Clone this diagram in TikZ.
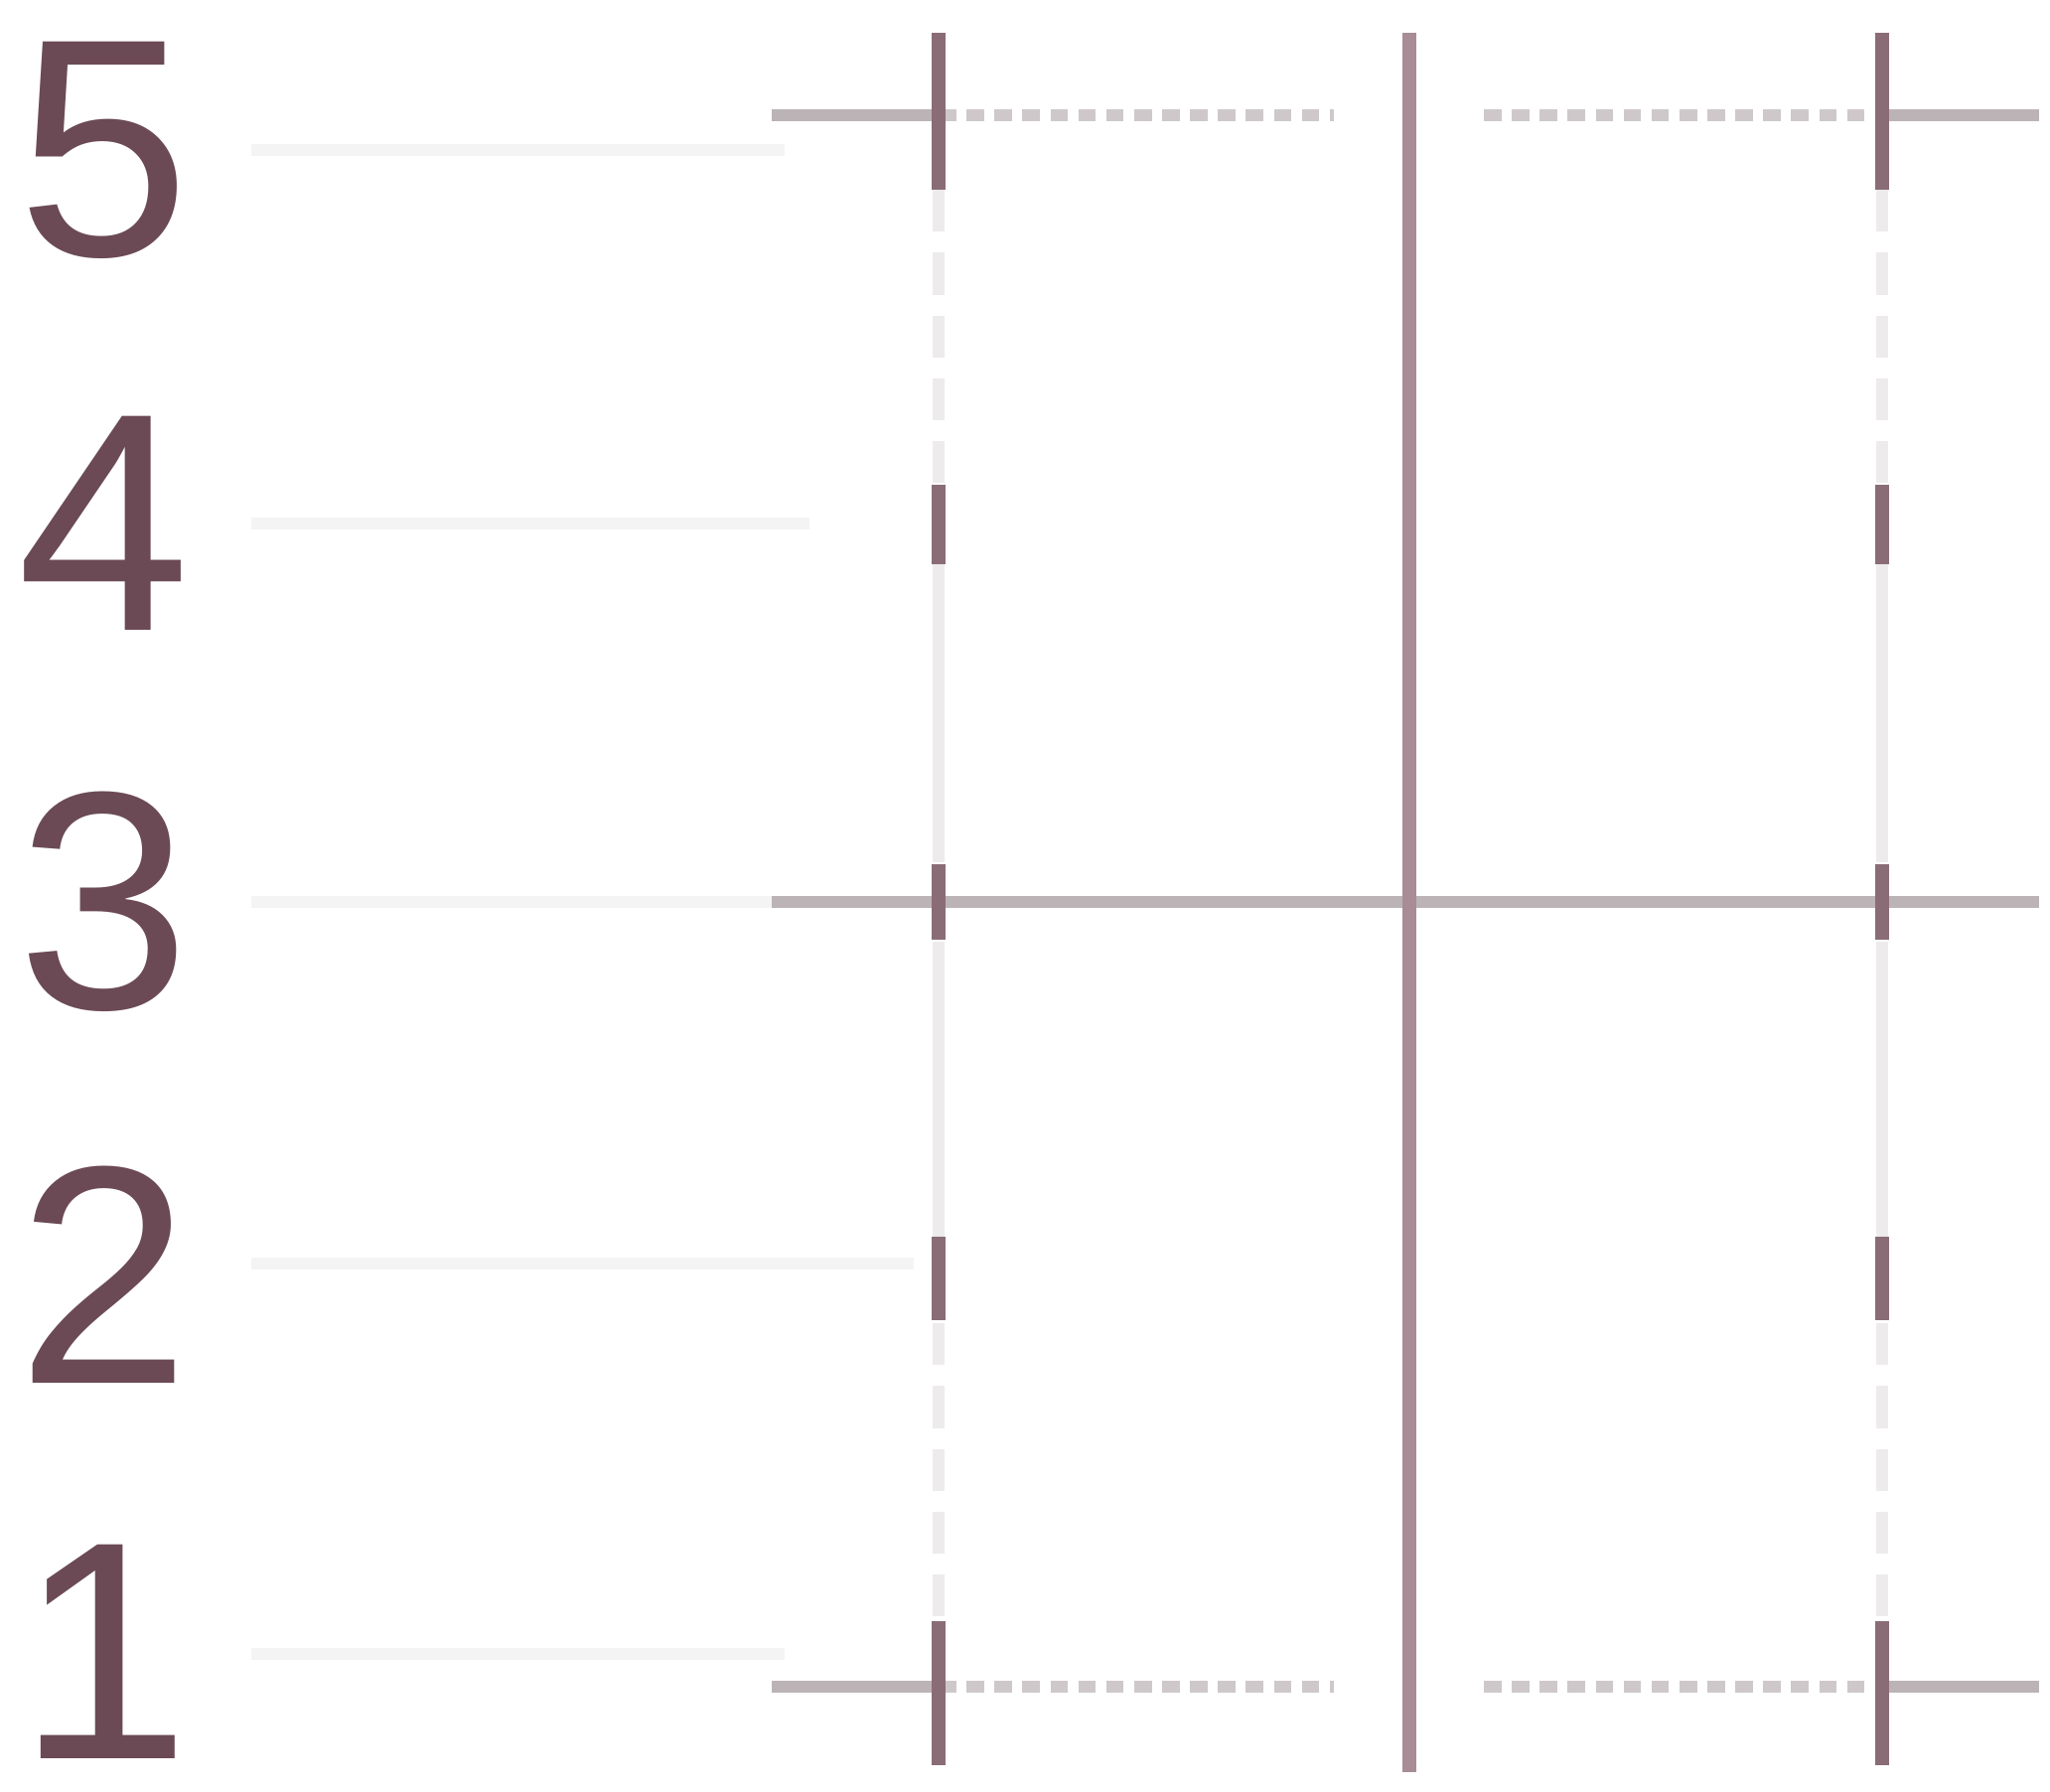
\documentclass[tikz,border=0pt]{standalone}
\usepackage{fontspec}
\setmainfont{Liberation Sans}
\begin{document}
\begin{tikzpicture}[x=0.01cm,y=-0.01cm,
  lbl/.style={text=labelc,font=\fontsize{89}{89}\selectfont,inner sep=0pt},
  leader/.style={draw=leaderc,line width=3.5pt},
  axis/.style={draw=axisc,line width=4pt},
  tick/.style={draw=tickc,line width=4pt},
  faint/.style={draw=faintc,line width=3.5pt},
  faintdash/.style={draw=faintc,line width=3.5pt,dash pattern=on 12pt off 6pt},
  hsolid/.style={draw=hlinec,line width=3.6pt},
  hdash/.style={draw=hdashc,line width=3.6pt,dash pattern=on 5pt off 3pt}]
\definecolor{labelc}{HTML}{6B4A55}
\definecolor{leaderc}{HTML}{F5F4F4}
\definecolor{axisc}{HTML}{A88C96}
\definecolor{tickc}{HTML}{8A6C77}
\definecolor{faintc}{HTML}{EDEBEC}
\definecolor{hlinec}{HTML}{BCB3B6}
\definecolor{hdashc}{HTML}{CEC8CA}
\useasboundingbox[fill=white] (0,0) rectangle (2064,1803);
% labels
\node[lbl] (l5) at (105,151) {5};
\node[lbl] (l4) at (105,527) {4};
\node[lbl] (l3) at (105,908) {3};
\node[lbl] (l2) at (105,1283) {2};
\node[lbl] (l1) at (105,1663) {1};
% leader lines
\coordinate (s5) at (253,151);  \coordinate (e5) at (790,151);
\coordinate (s4) at (253,527);  \coordinate (e4) at (815,527);
\coordinate (s3) at (253,908);  \coordinate (e3) at (777,908);
\coordinate (s2) at (253,1272); \coordinate (e2) at (920,1272);
\coordinate (s1) at (253,1665); \coordinate (e1) at (790,1665);
\draw[leader] (s5) -- (e5);
\draw[leader] (s4) -- (e4);
\draw[leader] (s3) -- (e3);
\draw[leader] (s2) -- (e2);
\draw[leader] (s1) -- (e1);
% column coordinates
\coordinate (a5) at (945,116);  \coordinate (b5) at (1419,116); \coordinate (c5) at (1895,116);
\coordinate (a4) at (945,528);  \coordinate (b4) at (1419,528); \coordinate (c4) at (1895,528);
\coordinate (a3) at (945,908);  \coordinate (b3) at (1419,908); \coordinate (c3) at (1895,908);
\coordinate (a2) at (945,1287); \coordinate (b2) at (1419,1287);\coordinate (c2) at (1895,1287);
\coordinate (a1) at (945,1698); \coordinate (b1) at (1419,1698);\coordinate (c1) at (1895,1698);
% faint column lines
\foreach \c in {a,c}{
  \draw[faintdash] (\c5) ++(0,75) -- ([yshift=-0.4cm]\c4);
  \draw[faint] (\c4) ++(0,40) -- ([yshift=0.4cm]\c3);
  \draw[faint] (\c3) ++(0,40) -- ([yshift=0.4cm]\c2);
  \draw[faintdash] (\c2) ++(0,45) -- ([yshift=-0.7cm]\c1);
}
% horizontal grid lines
\coordinate (h5l) at (777,116); \coordinate (h5m) at (1343,116);
\coordinate (h5n) at (1494,116); \coordinate (h5r) at (2053,116);
\coordinate (h3l) at (777,908); \coordinate (h3r) at (2053,908);
\coordinate (h1l) at (777,1698); \coordinate (h1m) at (1343,1698);
\coordinate (h1n) at (1494,1698); \coordinate (h1r) at (2053,1698);
\draw[hsolid] (h5l) -- (a5);
\draw[hdash] (a5) -- (h5m);
\draw[hdash] (h5n) -- (c5);
\draw[hsolid] (c5) -- (h5r);
\draw[hsolid] (h3l) -- (h3r);
\draw[hsolid] (h1l) -- (a1);
\draw[hdash] (a1) -- (h1m);
\draw[hdash] (h1n) -- (c1);
\draw[hsolid] (c1) -- (h1r);
% middle column
\coordinate (btop) at (1419,33); \coordinate (bbot) at (1419,1784);
\draw[axis] (btop) -- (bbot);
% ticks on outer columns
\foreach \c in {a,c}{
  \draw[tick] (\c5) ++(0,-83) -- ++(0,158);
  \draw[tick] (\c4) ++(0,-40) -- ++(0,80);
  \draw[tick] (\c3) ++(0,-38) -- ++(0,76);
  \draw[tick] (\c2) ++(0,-42) -- ++(0,84);
  \draw[tick] (\c1) ++(0,-66) -- ++(0,145);
}
\end{tikzpicture}
\end{document}
